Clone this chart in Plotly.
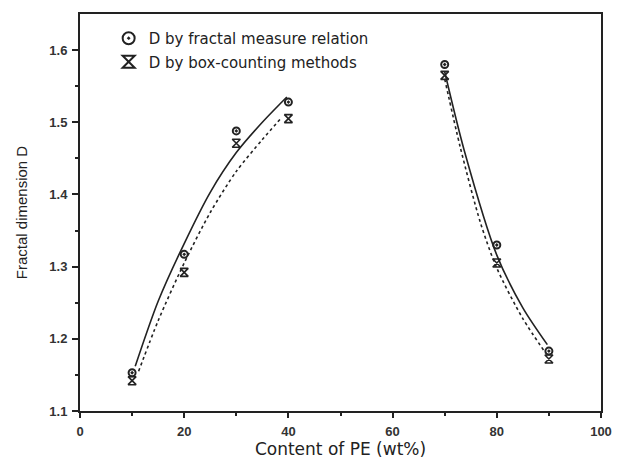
import plotly.graph_objects as go

# Data points
content = [10, 20, 30, 40, 70, 80, 90]
d_fractal = [1.153, 1.317, 1.488, 1.528, 1.580, 1.330, 1.183]
d_box = [1.142, 1.292, 1.471, 1.505, 1.565, 1.305, 1.172]

# Fitted curves
fit_fr_left_x = [10.6, 15.0, 20.0, 25.0, 30.0, 35.0, 39.7]
fit_fr_left_y = [1.162, 1.252, 1.332, 1.403, 1.458, 1.500, 1.535]
fit_box_left_x = [11.25, 15.0, 20.0, 25.0, 30.0, 35.0, 38.5]
fit_box_left_y = [1.155, 1.225, 1.305, 1.375, 1.432, 1.476, 1.505]
fit_fr_right_x = [70.0, 73.75, 80.0, 85.0, 89.7]
fit_fr_right_y = [1.570, 1.461, 1.316, 1.243, 1.192]
fit_box_right_x = [70.0, 73.0, 76.9, 80.0, 85.0, 89.4]
fit_box_right_y = [1.560, 1.465, 1.360, 1.298, 1.228, 1.180]

x_ticks = [0, 20, 40, 60, 80, 100]
y_ticks = [1.1, 1.2, 1.3, 1.4, 1.5, 1.6]

fig = go.Figure()
line_c = "#222222"
for xs, ys in [(fit_fr_left_x, fit_fr_left_y), (fit_fr_right_x, fit_fr_right_y)]:
    fig.add_trace(go.Scatter(x=xs, y=ys, mode="lines", line=dict(color=line_c, width=1.6, shape="spline", smoothing=0.8),
                             showlegend=False, hoverinfo="skip"))
for xs, ys in [(fit_box_left_x, fit_box_left_y), (fit_box_right_x, fit_box_right_y)]:
    fig.add_trace(go.Scatter(x=xs, y=ys, mode="lines", line=dict(color=line_c, width=1.6, dash="3px,3px", shape="spline", smoothing=0.8),
                             showlegend=False, hoverinfo="skip"))

fig.add_trace(go.Scatter(x=content, y=d_fractal, mode="markers", name="D by fractal measure relation",
                         legendgroup="a",
                         marker=dict(symbol="circle-open-dot", size=7, color=line_c, line=dict(width=2, color=line_c))))
fig.add_trace(go.Scatter(x=content, y=d_box, mode="markers", name="D by box-counting methods",
                         legendgroup="b",
                         marker=dict(symbol="hourglass-open", size=8, color=line_c, line=dict(width=1.6, color=line_c))))

font = "Arial, Liberation Sans, sans-serif"
wide = "DejaVu Sans, sans-serif"
tickfont = dict(size=13, family=font, weight="bold", color="#333")
fig.update_layout(
    width=622, height=463,
    margin=dict(l=80, r=10, t=14, b=51),
    paper_bgcolor="white", plot_bgcolor="white",
    font=dict(family=font, color="#222222", size=12),
    legend=dict(x=0.055, y=0.98, xanchor="left", yanchor="top", bgcolor="rgba(0,0,0,0)",
                font=dict(size=15, family=wide, color="#222"), itemsizing="constant", tracegroupgap=1,
                itemwidth=30),
    xaxis=dict(range=[0, 100], tickvals=x_ticks, ticktext=[str(v) for v in x_ticks],
               ticks="outside", ticklen=5, tickwidth=1.5, tickcolor="#222", ticklabelstandoff=2,
               minor=dict(tickvals=[10, 30, 50, 70, 90], ticks="outside", ticklen=3, tickwidth=1.5, tickcolor="#222"),
               showline=True, linecolor="#222", linewidth=2, mirror=True, showgrid=False, zeroline=False,
               title=dict(text="Content of PE (wt%)", font=dict(size=17, family=wide), standoff=3),
               tickfont=tickfont),
    yaxis=dict(range=[1.1, 1.65], tickvals=y_ticks, ticktext=["1.1", "1.2", "1.3", "1.4", "1.5", "1.6"],
               ticks="outside", ticklen=6, tickwidth=1.5, tickcolor="#222", ticklabelstandoff=2,
               minor=dict(tickvals=[1.15, 1.25, 1.35, 1.45, 1.55], ticks="outside", ticklen=3, tickwidth=1.5, tickcolor="#222"),
               showline=True, linecolor="#222", linewidth=2, mirror=True, showgrid=False, zeroline=False,
               title=dict(text="Fractal dimension D", font=dict(size=15, family=font), standoff=18),
               tickfont=tickfont),
)

fig.write_html("out.html")
